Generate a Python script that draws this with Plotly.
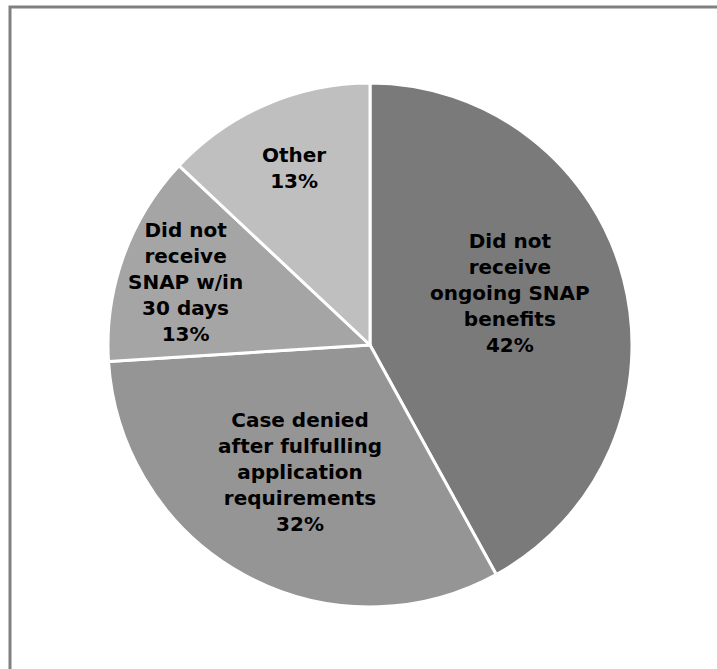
import math
import plotly.graph_objects as go

labels = ["Did not<br>receive<br>ongoing SNAP<br>benefits",
          "Case denied<br>after fulfulling<br>application<br>requirements",
          "Did not<br>receive<br>SNAP w/in<br>30 days",
          "Other"]
values = [42, 32, 13, 13]
colors = ["#7a7a7a", "#959595", "#a5a5a5", "#bfbfbf"]
label_radius = [0.57, 0.553, 0.745, 0.735]
label_angle_shift = [-6, 0, -1, 0]

W, H = 717, 669
cx, cy, R = 370, 345, 262

fig = go.Figure(go.Pie(
    labels=labels, values=values, sort=False, direction="clockwise", rotation=0,
    marker=dict(colors=colors, line=dict(color="white", width=3)),
    textinfo="none", hoverinfo="label+percent", showlegend=False,
    domain=dict(x=[(cx - R) / W, (cx + R) / W], y=[1 - (cy + R) / H, 1 - (cy - R) / H]),
))

total = sum(values)
cum = 0
annotations = []
for lab, v, rf, da in zip(labels, values, label_radius, label_angle_shift):
    mid = (cum + v / 2) / total * 2 * math.pi + math.radians(da)
    cum += v
    px = cx + rf * R * math.sin(mid)
    py = cy - rf * R * math.cos(mid)
    annotations.append(dict(
        x=px / W, y=1 - py / H, xref="paper", yref="paper", showarrow=False,
        xanchor="center", yanchor="middle",
        text=f"<b>{lab}<br>{round(v / total * 100)}%</b>",
        font=dict(family="DejaVu Sans", size=20, color="#000000"), align="center",
    ))

fig.update_layout(
    width=W, height=H, margin=dict(l=0, r=0, t=0, b=0),
    paper_bgcolor="white", plot_bgcolor="white",
    annotations=annotations,
    shapes=[dict(type="rect", xref="paper", yref="paper",
                 x0=10 / W, x1=1.05, y0=-0.05, y1=1 - 7 / H,
                 line=dict(color="#808080", width=3), fillcolor="rgba(0,0,0,0)")],
)
fig.write_html("out.html")
